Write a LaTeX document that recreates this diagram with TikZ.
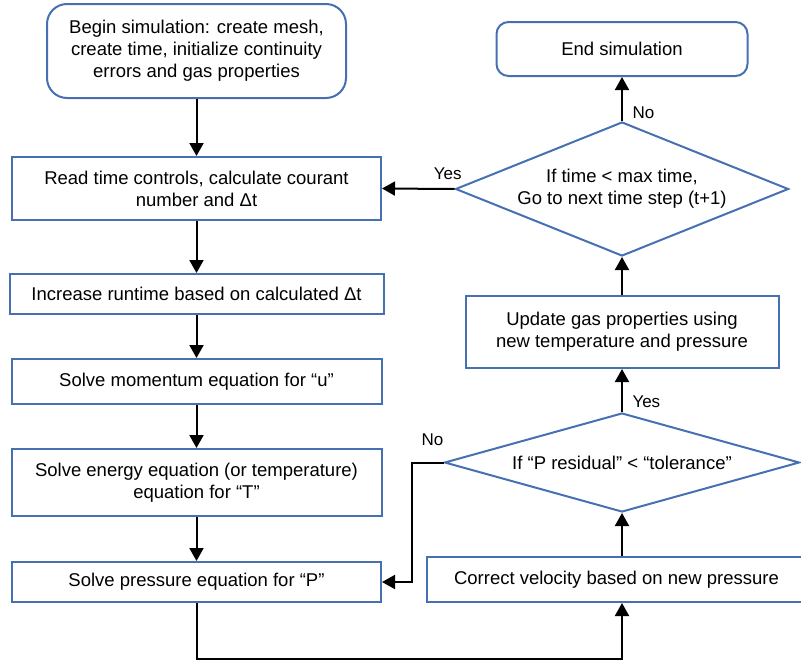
\documentclass[tikz,border=0pt]{standalone}
\usepackage{fontspec}
\setmainfont{Liberation Sans}
\usepackage{xcolor}
\usetikzlibrary{shapes.geometric,arrows.meta}
\definecolor{bordo}{RGB}{70,112,178}

\begin{document}
\begin{tikzpicture}[x=1pt,y=-1pt,>={Triangle[length=13pt,width=14pt]},
  every node/.style={font=\fontsize{18.5}{22}\selectfont},
  passo/.style={draw=bordo,line width=2pt,align=center,inner sep=0pt},
  scelta/.style={diamond,draw=bordo,line width=2pt,align=center,inner sep=0pt},
  freccia/.style={->,line width=2pt},
  etichetta/.style={font=\fontsize{17}{20}\selectfont,inner sep=0pt}]
  \useasboundingbox (0,0) rectangle (801,664);
  % colonna di sinistra
  \node[passo,rounded corners=20pt,minimum width=299pt,minimum height=94pt] (inizio) at (196.5,51) {Begin simulation: create mesh,\\create time, initialize continuity\\errors and gas properties};
  \node[passo,minimum width=369pt,minimum height=63pt] (leggi) at (196.5,188.5) {Read time controls, calculate courant\\number and Δt};
  \node[passo,minimum width=374pt,minimum height=40pt] (aumenta) at (196.5,294) {Increase runtime based on calculated Δt};
  \node[passo,minimum width=370pt,minimum height=45pt] (moto) at (196.5,381.5) {Solve momentum equation for “u”};
  \node[passo,minimum width=370pt,minimum height=67pt] (energia) at (196.5,482.5) {Solve energy equation (or temperature)\\equation for “T”};
  \node[passo,minimum width=369pt,minimum height=40pt] (pressione) at (196.5,582) {Solve pressure equation for “P”};
  % colonna di destra
  \node[passo,minimum width=379pt,minimum height=45pt] (velocita) at (616.5,579.5) {Correct velocity based on new pressure};
  \node[scelta,aspect=3.6,minimum width=355pt,minimum height=99pt] (residuo) at (622,462.5) {If “P residual” < “tolerance”};
  \node[passo,minimum width=313pt,minimum height=72pt] (aggiorna) at (622,332) {Update gas properties using\\new temperature and pressure};
  \node[scelta,aspect=2.5,minimum width=333pt,minimum height=134pt] (tempo) at (622,189) {If time < max time,\\Go to next time step (t+1)};
  \node[passo,rounded corners=12pt,minimum width=251pt,minimum height=54pt] (fine) at (622,49) {End simulation};
  % frecce
  \draw[freccia] (inizio.south) -- (leggi.north);
  \draw[freccia] (leggi.south) -- (aumenta.north);
  \draw[freccia] (aumenta.south) -- (moto.north);
  \draw[freccia] (moto.south) -- (energia.north);
  \draw[freccia] (energia.south) -- (pressione.north);
  \draw[freccia] (pressione.south) -- ++(0,56) -| (velocita.south -| residuo.south);
  \draw[freccia] (velocita.north -| residuo.south) -- (residuo.south);
  \draw[freccia] (residuo.north) -- (aggiorna.south)
    node[etichetta,pos=0,anchor=south west,xshift=9.5pt,yshift=3pt] {Yes};
  \draw[freccia] (residuo.west) -- ++(-32,0) |- (pressione.east);
  \node[etichetta,anchor=south east,yshift=17pt] (no1) at (residuo.west) {No};
  \draw[freccia] (aggiorna.north) -- (tempo.south);
  \draw[freccia] (tempo.north) -- (fine.south)
    node[etichetta,pos=0,anchor=south west,xshift=9.5pt,yshift=1pt] {No};
  \draw[freccia] (tempo.west) -- (leggi.east)
    node[etichetta,pos=0,anchor=south east,xshift=8pt,yshift=8pt] {Yes};
\end{tikzpicture}
\end{document}
